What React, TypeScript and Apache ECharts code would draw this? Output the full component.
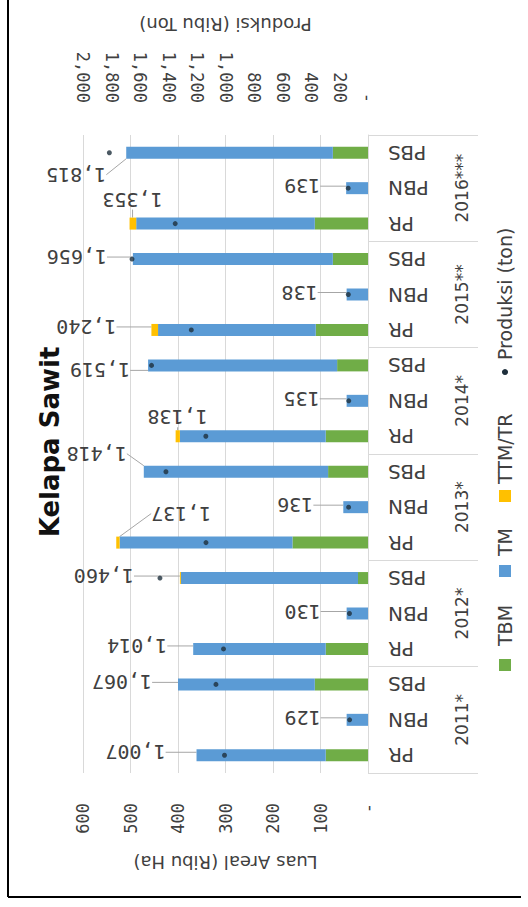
import React, { useEffect, useRef } from "react";
import * as echarts from "echarts";

// ---- data ----
const categories = [
  "PR", "PBN", "PBS",
  "PR", "PBN", "PBS",
  "PR", "PBN", "PBS",
  "PR", "PBN", "PBS",
  "PR", "PBN", "PBS",
  "PR", "PBN", "PBS",
];
const years = ["2011*", "2012*", "2013*", "2014*", "2015**", "2016***"];
// Luas areal (Ribu Ha)
const tbm = [89, 0, 112, 89, 0, 21, 159, 0, 84, 89, 0, 65, 110, 0, 74, 112, 0, 74];
const tm = [272, 45, 288, 279, 45, 373, 364, 52, 388, 307, 45, 398, 332, 45, 421, 376, 46, 435];
const ttm = [0, 0, 0, 0, 0, 2, 7, 0, 0, 9, 0, 0, 14, 0, 0, 14, 0, 0];
// Produksi (Ribu Ton)
const produksi = [1007, 129, 1067, 1014, 130, 1460, 1137, 136, 1418, 1138, 135, 1519, 1240, 138, 1656, 1353, 139, 1815];

// ---- layout tweaks for the production labels (pixels, relative to the bar end) ----
const labelDx = [-61, -44, -56, -56, -44, -76, 65, -48, -47, 2, -45, -48, -65, -47, -56, 3, -44, -50];
const labelDy = [-3, -2, -2, -3, -2, -2, -29, -2, -18, -19, -2, 5, -3, -2, -2, -24, -2, 22];

const GREEN = "#70ad47";
const BLUE = "#5b9bd5";
const YELLOW = "#ffc000";
const DOT = "#1e2f3c";
const TEXT = "#404040";
const GRID = "#d9d9d9";

const fmt = (v: number) => (v === 0 ? "-" : v.toLocaleString("en-US"));

export default function App() {
  const ref = useRef<HTMLDivElement>(null);
  useEffect(() => {
    if (!ref.current) return;
    const chart = echarts.init(ref.current, undefined, { renderer: "svg" });
    const sans = "DejaVu Sans";
    const mono = "DejaVu Sans Mono";
    const option: any = {
      animation: false,
      backgroundColor: "#ffffff",
      grid: { left: 83, right: 160, top: 135, bottom: 134, containLabel: false },
      xAxis: [
        {
          type: "value",
          position: "bottom",
          inverse: true,
          min: 0,
          max: 600,
          interval: 100,
          name: "Luas Areal (Ribu Ha)",
          nameLocation: "middle",
          nameGap: 80,
          nameRotate: 180,
          nameTextStyle: { fontSize: 18, fontFamily: sans, color: TEXT },
          axisLine: { show: false },
          axisTick: { show: false },
          splitLine: { show: true, lineStyle: { color: GRID, width: 1 } },
          axisLabel: { rotate: 90, margin: 30, formatter: fmt, fontFamily: mono, fontSize: 17, color: TEXT },
        },
        {
          type: "value",
          position: "top",
          inverse: true,
          min: 0,
          max: 2000,
          interval: 200,
          name: "Produksi (Ribu Ton)",
          nameLocation: "middle",
          nameGap: 102,
          nameRotate: 180,
          nameTextStyle: { fontSize: 18, fontFamily: sans, color: TEXT },
          axisLine: { show: false },
          axisTick: { show: false },
          splitLine: { show: false },
          axisLabel: { rotate: 90, margin: 32, formatter: fmt, fontFamily: mono, fontSize: 17, color: TEXT },
        },
      ],
      yAxis: [
        {
          type: "category",
          position: "right",
          data: categories,
          axisLine: { show: true, lineStyle: { color: GRID } },
          axisTick: { show: false },
          axisLabel: { rotate: 180, margin: 20, fontSize: 20, fontFamily: sans, color: TEXT },
        },
        {
          type: "category",
          position: "right",
          data: years,
          axisLine: { show: false },
          axisTick: { show: true, length: 110, lineStyle: { color: GRID } },
          axisLabel: { rotate: 90, margin: 85, fontSize: 17, fontFamily: sans, color: TEXT },
          splitLine: { show: false },
        },
      ],
      series: [
        {
          name: "TBM",
          type: "bar",
          stack: "luas",
          xAxisIndex: 0,
          yAxisIndex: 0,
          barWidth: 12,
          itemStyle: { color: GREEN },
          data: tbm,
        },
        {
          name: "TM",
          type: "bar",
          stack: "luas",
          xAxisIndex: 0,
          yAxisIndex: 0,
          barWidth: 12,
          itemStyle: { color: BLUE },
          data: tm,
        },
        {
          name: "TTM/TR",
          type: "bar",
          stack: "luas",
          xAxisIndex: 0,
          yAxisIndex: 0,
          barWidth: 12,
          itemStyle: { color: YELLOW },
          data: ttm,
          label: {
            show: true,
            position: "left",
            rotate: 180,
            formatter: (p: any) => fmt(produksi[p.dataIndex]),
            fontFamily: mono,
            fontSize: 20,
            color: TEXT,
          },
          labelLine: { show: true, lineStyle: { color: "#a6a6a6", width: 1 } },
          labelLayout: (p: any) => {
            const r = p.rect;
            const end = Math.min(r.x, r.x + r.width);
            const i = p.dataIndex;
            return {
              x: end + labelDx[i],
              y: r.y + r.height / 2 + labelDy[i],
              align: "center",
              verticalAlign: "middle",
            };
          },
        },
        {
          name: "Produksi (ton)",
          type: "scatter",
          xAxisIndex: 1,
          yAxisIndex: 0,
          symbol: "circle",
          symbolSize: 5,
          itemStyle: { color: DOT },
          z: 5,
          data: produksi,
        },
      ],
      graphic: [
        { type: "line", shape: { x1: 8, y1: 0, x2: 8, y2: 897 }, style: { stroke: "#000", lineWidth: 2 } },
        { type: "line", shape: { x1: 8, y1: 897, x2: 521, y2: 897 }, style: { stroke: "#000", lineWidth: 2 } },
        {
          type: "text",
          x: 50,
          y: 442,
          rotation: Math.PI / 2,
          style: {
            text: "Kelapa Sawit",
            fontSize: 26,
            fontWeight: "bold",
            fontFamily: sans,
            fill: "#111",
            align: "center",
            verticalAlign: "middle",
          },
        },
        {
          type: "group",
          x: 505,
          y: 672,
          rotation: Math.PI / 2,
          children: [
            { type: "rect", shape: { x: 1, y: -6, width: 12, height: 12 }, style: { fill: GREEN } },
            { type: "text", x: 26, y: 0, style: { text: "TBM", fontSize: 19, fontFamily: sans, fill: TEXT, verticalAlign: "middle" } },
            { type: "rect", shape: { x: 95, y: -6, width: 12, height: 12 }, style: { fill: BLUE } },
            { type: "text", x: 116, y: 0, style: { text: "TM", fontSize: 19, fontFamily: sans, fill: TEXT, verticalAlign: "middle" } },
            { type: "rect", shape: { x: 170, y: -6, width: 12, height: 12 }, style: { fill: YELLOW } },
            { type: "text", x: 188, y: 0, style: { text: "TTM/TR", fontSize: 19, fontFamily: sans, fill: TEXT, verticalAlign: "middle" } },
            { type: "circle", shape: { cx: 300, cy: 0, r: 3 }, style: { fill: DOT } },
            { type: "text", x: 312, y: 0, style: { text: "Produksi (ton)", fontSize: 19, fontFamily: sans, fill: TEXT, verticalAlign: "middle" } },
          ],
        },
      ],
    };
    chart.setOption(option);
    return () => chart.dispose();
  }, []);
  return (
    <div
      ref={ref}
      style={{ position: "fixed", left: 0, top: 0, width: 528, height: 907, background: "#fff" }}
    />
  );
}
